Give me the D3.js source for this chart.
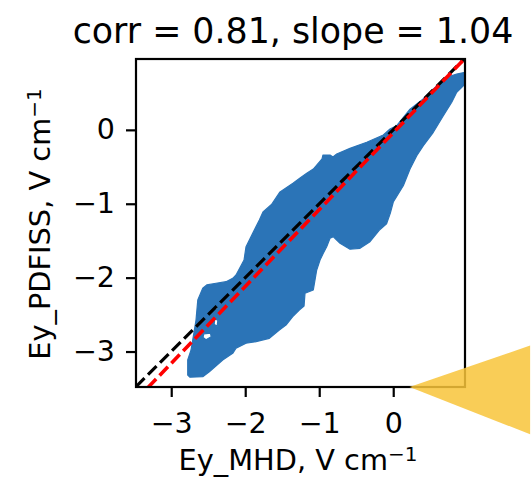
<!DOCTYPE html>
<html>
<head>
<meta charset="utf-8">
<script src="https://cdn.jsdelivr.net/npm/d3@7"></script>
<style>
  html, body { margin: 0; padding: 0; background: #ffffff; }
  svg { display: block; }
  text { font-family: "DejaVu Sans", sans-serif; fill: #000; }
</style>
</head>
<body>
<svg id="chart" width="531" height="485"></svg>
<script>
// Summary statistics shown in the title
const corr = 0.81;
const slope = 1.04;
const intercept = -0.04;

// Tick values on both axes (V cm^-1)
const xTicks = [-3, -2, -1, 0];
const yTicks = [-3, -2, -1, 0];

// Axis extents (V cm^-1)
const xDomain = [-3.476, 0.970];
const yDomain = [-3.48, 0.959];

// Outline of the dense point cloud: Ey_MHD values (clockwise from upper right)
const outlineMHD = [
  0.970, 0.858, 0.723, 0.55, 0.40, 0.227, 0.05, -0.043,
  -0.134, -0.358, -0.584, -0.764, -0.814, -0.854, -0.949, -0.962,
  -1.080, -1.169, -1.259, -1.35, -1.53, -1.645, -1.76, -1.809,
  -1.899, -1.989, -2.016, -2.124, -2.169, -2.259, -2.395, -2.520,
  -2.574, -2.641, -2.665, -2.732, -2.777, -2.777, -2.746, -2.574,
  -2.485, -2.304, -2.169, -2.124, -1.989, -1.854, -1.674, -1.539,
  -1.449, -1.358, -1.269, -1.205, -1.192, -1.080, -1.057, -1.034,
  -0.989, -0.945, -0.899, -0.854, -0.809, -0.719, -0.584, -0.449,
  -0.314, -0.223, -0.19, -0.09, -0.04, 0.001, 0.136, 0.227,
  0.318, 0.407, 0.542, 0.677, 0.791, 0.858, 0.970
];
// Matching Ey_PDFISS values of the cloud outline
const outlinePDFISS = [
  0.779, 0.756, 0.711, 0.56, 0.415, 0.28, 0.06, 0.012,
  -0.070, -0.168, -0.250, -0.327, -0.367, -0.340, -0.340, -0.394,
  -0.530, -0.588, -0.651, -0.72, -0.84, -1.01, -1.11, -1.219,
  -1.400, -1.581, -1.761, -1.964, -2.009, -2.055, -2.076, -2.099,
  -2.144, -2.302, -2.573, -2.979, -3.114, -3.317, -3.348, -3.340,
  -3.273, -3.114, -3.024, -2.956, -2.888, -2.867, -2.821, -2.708,
  -2.641, -2.528, -2.438, -2.384, -2.212, -2.167, -2.032, -1.896,
  -1.761, -1.670, -1.581, -1.468, -1.446, -1.535, -1.616, -1.603,
  -1.514, -1.400, -1.36, -1.27, -1.13, -0.976, -0.756, -0.530,
  -0.350, -0.214, -0.033, 0.191, 0.373, 0.508, 0.620
];

// Small empty pockets inside the low-field lobe of the cloud
const gapsMHD = [
  [-2.40, -2.37, -2.39, -2.42],
  [-2.41, -2.37, -2.38, -2.42],
  [-2.56, -2.47, -2.46, -2.53, -2.57]
];
const gapsPDFISS = [
  [-2.36, -2.40, -2.44, -2.41],
  [-2.55, -2.58, -2.66, -2.63],
  [-2.76, -2.75, -2.80, -2.84, -2.81]
];

const svg = d3.select("#chart");

const x = d3.scaleLinear().domain(xDomain).range([136, 465]);
const y = d3.scaleLinear().domain(yDomain).range([387, 59]);

svg.append("defs").append("clipPath").attr("id", "plot-clip")
  .append("rect")
  .attr("x", x.range()[0]).attr("y", y.range()[1])
  .attr("width", x.range()[1] - x.range()[0])
  .attr("height", y.range()[0] - y.range()[1]);

const plot = svg.append("g").attr("clip-path", "url(#plot-clip)");

// Point cloud (outer outline plus interior gaps, even-odd filled)
const ring = d3.line().x(d => x(d[0])).y(d => y(d[1])).curve(d3.curveLinearClosed);
const cloud = outlineMHD.map((v, i) => [v, outlinePDFISS[i]]);
const gaps = gapsMHD.map((xs, k) => xs.map((v, i) => [v, gapsPDFISS[k][i]]));
plot.append("path")
  .attr("d", [cloud, ...gaps].map(r => ring(r)).join(""))
  .attr("fill", "#2b74b7")
  .attr("fill-rule", "evenodd")
  .attr("stroke", "#2b74b7")
  .attr("stroke-width", 1.2)
  .attr("stroke-linejoin", "round");

// One-to-one reference line
const lineGen = d3.line().x(d => x(d[0])).y(d => y(d[1]));
plot.append("path")
  .datum(xDomain.map(v => [v, v]))
  .attr("d", lineGen)
  .attr("fill", "none")
  .attr("stroke", "#000")
  .attr("stroke-width", 3.2)
  .attr("stroke-dasharray", "12,5");

// Least-squares fit
plot.append("path")
  .datum(xDomain.map(v => [v, slope * v + intercept]))
  .attr("d", lineGen)
  .attr("fill", "none")
  .attr("stroke", "#ff0000")
  .attr("stroke-width", 3.6)
  .attr("stroke-dasharray", "12,5");

// Frame
svg.append("rect")
  .attr("x", x.range()[0]).attr("y", y.range()[1])
  .attr("width", x.range()[1] - x.range()[0])
  .attr("height", y.range()[0] - y.range()[1])
  .attr("fill", "none").attr("stroke", "#000").attr("stroke-width", 2.2);

const fmt = d => d3.format("d")(d).replace("-", "\u2212");

const xAxis = svg.append("g")
  .attr("transform", `translate(0,${y.range()[0]})`)
  .call(d3.axisBottom(x).tickValues(xTicks).tickFormat(fmt).tickSize(10).tickPadding(16));
const yAxis = svg.append("g")
  .attr("transform", `translate(${x.range()[0]},0)`)
  .call(d3.axisLeft(y).tickValues(yTicks).tickFormat(fmt).tickSize(10).tickPadding(11));

[xAxis, yAxis].forEach(g => {
  g.select(".domain").remove();
  g.selectAll(".tick line").attr("stroke", "#000").attr("stroke-width", 2.2);
  g.selectAll(".tick text")
    .attr("font-family", "DejaVu Sans, sans-serif")
    .attr("font-size", 28.5)
    .attr("fill", "#000");
});

// Title
svg.append("text")
  .attr("x", 293).attr("y", 43)
  .attr("text-anchor", "middle")
  .attr("font-size", 34.8)
  .text(`corr = ${corr.toFixed(2)}, slope = ${slope.toFixed(2)}`);

// Axis labels with superscript unit
function unitLabel(sel, name) {
  sel.append("tspan").text(`${name}, V cm`);
  sel.append("tspan").attr("dy", -9).attr("font-size", 20).text("\u22121");
}
svg.append("text")
  .attr("x", 298).attr("y", 470)
  .attr("text-anchor", "middle")
  .attr("font-size", 28.8)
  .call(unitLabel, "Ey_MHD");
svg.append("text")
  .attr("transform", "translate(50,224) rotate(-90)")
  .attr("text-anchor", "middle")
  .attr("font-size", 28.8)
  .call(unitLabel, "Ey_PDFISS");

// Callout pointer overlapping the lower right corner
const pointer = [[0.22, -3.48], [1.85, -2.92], [1.85, -4.12]];
svg.append("path")
  .datum(pointer)
  .attr("d", d3.line().x(d => x(d[0])).y(d => y(d[1])).curve(d3.curveLinearClosed))
  .attr("fill", "rgb(248,196,58)")
  .attr("fill-opacity", 0.85);
</script>
</body>
</html>
